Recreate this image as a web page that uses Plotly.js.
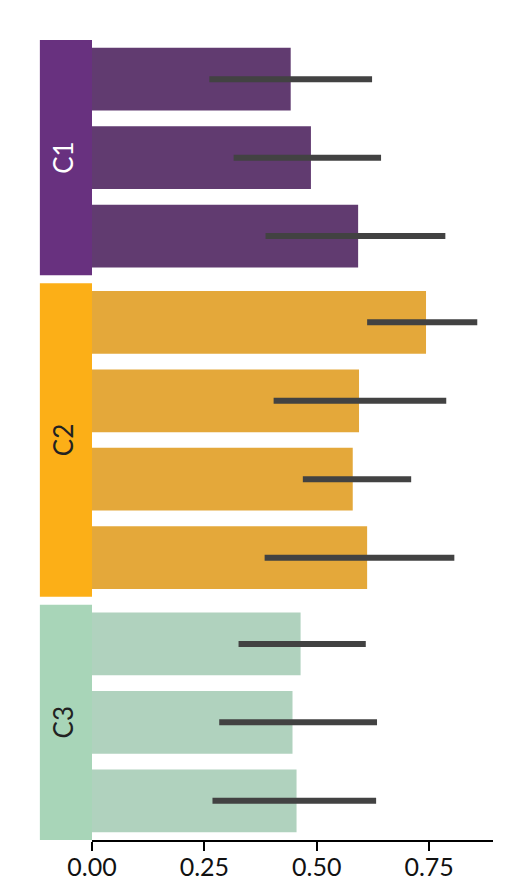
<!DOCTYPE html>
<html>
<head>
<meta charset="utf-8">
<script src="https://cdn.plot.ly/plotly-3.0.1.min.js"></script>
<style>
  body { margin: 0; background: #fff; }
  #graph { width: 531px; height: 880px; }
</style>
</head>
<body>
<div id="graph"></div>
<script>
var groups = ['C1', 'C2', 'C3'];
var groupSizes = [3, 4, 3];
var groupColors = ['#68317f', '#fcaf17', '#a8d5b8'];
var barColors = ['#613b70', '#e4a83a', '#b0d2be'];
var labelColors = ['#ffffff', '#222222', '#222222'];

var values = [0.442, 0.487, 0.592, 0.743, 0.594, 0.580, 0.612, 0.464, 0.446, 0.455];
var lows   = [0.261, 0.315, 0.386, 0.612, 0.404, 0.469, 0.384, 0.326, 0.283, 0.268];
var highs  = [0.623, 0.643, 0.786, 0.857, 0.788, 0.710, 0.806, 0.609, 0.634, 0.632];

var tickVals = [0, 0.25, 0.5, 0.75];
var tickText = ['0.00', '0.25', '0.50', '0.75'];

function drawChart() {
    var gap = 0.1;
    var yPos = [], colors = [], shapes = [], annotations = [];
    var k = 0;
    for (var g = 0; g < groups.length; g++) {
        var start = k + g * gap;
        for (var j = 0; j < groupSizes[g]; j++) {
            yPos.push(start + j);
            colors.push(barColors[g]);
        }
        var y0 = start - 0.5, y1 = start + groupSizes[g] - 0.5;
        shapes.push({type: 'rect', xref: 'paper', yref: 'y', x0: -0.13, x1: 0, y0: y0, y1: y1,
            fillcolor: groupColors[g], line: {width: 0}, layer: 'below'});
        annotations.push({xref: 'paper', yref: 'y', x: -0.072, y: (y0 + y1) / 2, text: groups[g],
            xanchor: 'center', yanchor: 'middle',
            showarrow: false, textangle: -90, font: {family: 'Lato', size: 26, color: labelColors[g]}});
        k += groupSizes[g];
    }
    var plus = [], minus = [];
    for (var i = 0; i < values.length; i++) {
        plus.push(highs[i] - values[i]);
        minus.push(values[i] - lows[i]);
    }
    var data = [{
        type: 'bar', orientation: 'h', x: values, y: yPos, width: 0.8,
        marker: {color: colors, line: {width: 0}},
        error_x: {type: 'data', symmetric: false, array: plus, arrayminus: minus,
            color: '#424242', thickness: 6, width: 0},
        hoverinfo: 'x'
    }];
    var totalSpan = k + (groups.length - 1) * gap;
    var layout = {
        width: 531, height: 880,
        margin: {l: 92, r: 38, t: 40, b: 40},
        paper_bgcolor: '#fff', plot_bgcolor: '#fff',
        showlegend: false,
        font: {family: 'Lato', color: '#111'},
        xaxis: {range: [0, 0.892], tickvals: tickVals, ticktext: tickText,
            ticks: 'outside', ticklen: 9, tickwidth: 2, tickcolor: '#000',
            ticklabelstandoff: -5,
            showline: true, linecolor: '#000', linewidth: 2, showgrid: false, zeroline: false,
            tickfont: {family: 'Lato', size: 25, color: '#111'}},
        yaxis: {range: [totalSpan - 0.5, -0.5], showticklabels: false, ticks: '',
            showgrid: false, zeroline: false, showline: false},
        shapes: shapes,
        annotations: annotations
    };
    Plotly.newPlot('graph', data, layout, {displayModeBar: false});
}
drawChart();
</script>
</body>
</html>
